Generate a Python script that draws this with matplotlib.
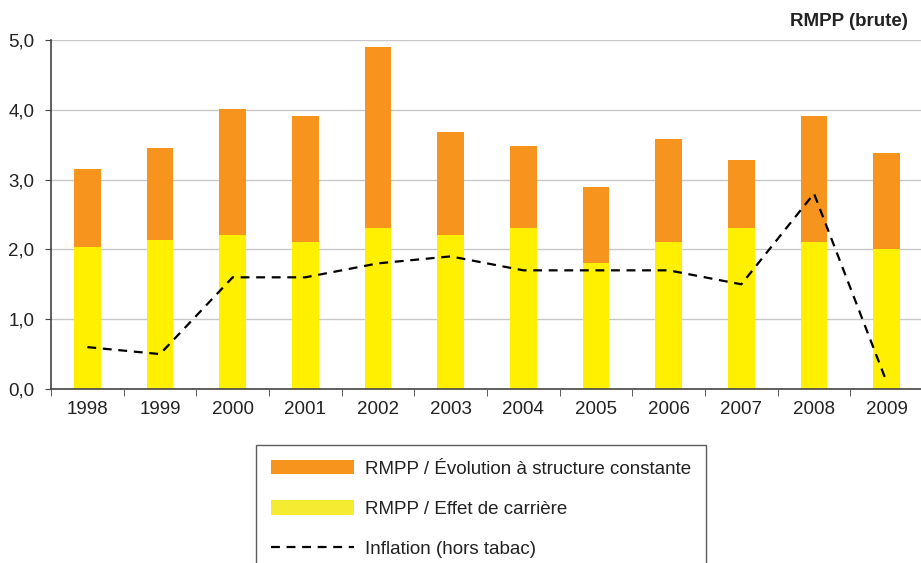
import matplotlib
matplotlib.use("Agg")
import matplotlib.pyplot as plt
from matplotlib.patches import Patch
from matplotlib.lines import Line2D
import numpy as np

plt.rcParams['font.family'] = ['Liberation Sans', 'DejaVu Sans']

years = ["1998", "1999", "2000", "2001", "2002", "2003", "2004", "2005", "2006", "2007", "2008", "2009"]
carriere = [2.03, 2.13, 2.2, 2.1, 2.3, 2.2, 2.3, 1.8, 2.1, 2.3, 2.1, 2.0]
total = [3.15, 3.45, 4.01, 3.91, 4.9, 3.68, 3.48, 2.89, 3.58, 3.28, 3.91, 3.38]
structure = [t - c for t, c in zip(total, carriere)]
inflation = [0.6, 0.5, 1.6, 1.6, 1.8, 1.9, 1.7, 1.7, 1.7, 1.5, 2.8, 0.1]
yticks = [0.0, 1.0, 2.0, 3.0, 4.0, 5.0]
ytick_labels = ["0,0", "1,0", "2,0", "3,0", "4,0", "5,0"]

orange = "#F7941D"
yellow = "#FFF000"
fs = 13.5

fig = plt.figure(figsize=(9.21, 5.63), dpi=100)
ax = fig.add_axes([51/921, 174/563, 872/921, 349/563])

x = np.arange(len(years))
w = 0.37
ax.bar(x, carriere, w, color=yellow, zorder=2)
ax.bar(x, structure, w, bottom=carriere, color=orange, zorder=2)
ax.plot(x, inflation, color="black", lw=1.6, ls=(0, (4, 3)), zorder=3)

ax.set_xlim(-0.5, len(years) - 0.5)
ax.set_ylim(0, 5.0)
ax.set_yticks(yticks)
ax.set_yticklabels(ytick_labels, fontsize=fs, color="#222222")
ax.set_xticks(x)
ax.set_xticklabels(years, fontsize=fs, color="#222222")
ax.set_xticks(np.arange(-0.5, len(years), 1.0), minor=True)
ax.tick_params(axis='x', which='major', length=0, pad=9)
ax.tick_params(axis='x', which='minor', length=5, direction='out', color="#444444")
ax.tick_params(axis='y', length=4, direction='out', color="#444444", pad=8)
ax.yaxis.grid(True, color="#C8C8C8", lw=1.0, zorder=0)
ax.set_axisbelow(True)
for s in ['top', 'right']:
    ax.spines[s].set_visible(False)
ax.spines['left'].set_color("#444444")
ax.spines['bottom'].set_color("#444444")
ax.spines['left'].set_linewidth(1.2)
ax.spines['bottom'].set_linewidth(1.2)

fig.text(908/921, 1 - 22/563, "RMPP (brute)", ha="right", va="center",
         fontsize=fs, fontweight="bold", color="#222222")

handles = [
    Patch(facecolor=orange, edgecolor="none"),
    Patch(facecolor="#F5EB30", edgecolor="none"),
    Line2D([0], [0], color="black", lw=1.6, ls=(0, (4, 3))),
]
labels = ["RMPP / Évolution à structure constante", "RMPP / Effet de carrière", "Inflation (hors tabac)"]
leg = fig.legend(handles, labels, loc="upper left", bbox_to_anchor=(256/921, 1 - 445/563),
                 frameon=True, fancybox=False, fontsize=fs, handlelength=4.4,
                 handleheight=0.8, labelspacing=1.2, borderpad=0.8, handletextpad=0.6,
                 borderaxespad=0)
leg.get_frame().set_edgecolor("#333333")
leg.get_frame().set_linewidth(1.0)
for t in leg.get_texts():
    t.set_color("#222222")

fig.savefig("out.png", dpi=100)
